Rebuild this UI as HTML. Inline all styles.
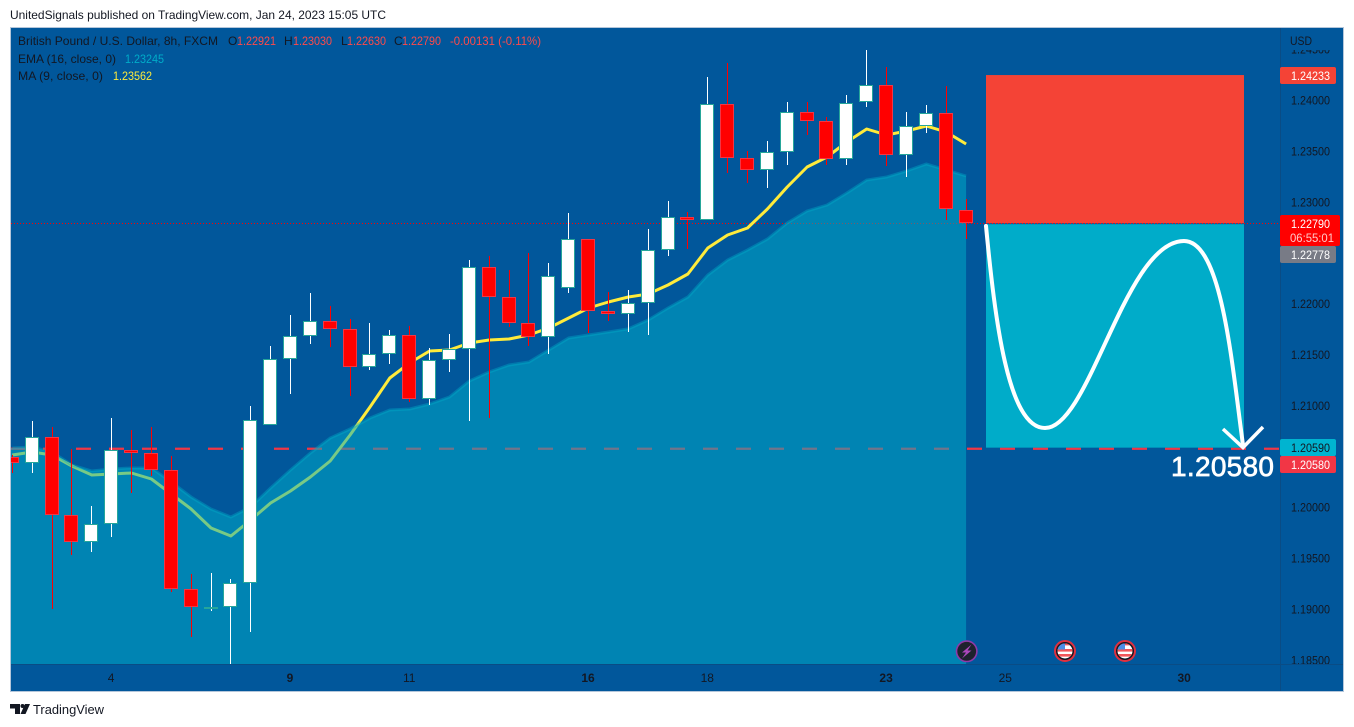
<!DOCTYPE html>
<html lang="en">
<head>
<meta charset="utf-8">
<title>GBP/USD 8h chart</title>
<style>
html,body{margin:0;padding:0;background:#fff;width:1354px;height:727px;overflow:hidden}
svg{display:block;font-family:"Liberation Sans",sans-serif}
</style>
</head>
<body>
<svg id="chart" xmlns="http://www.w3.org/2000/svg" width="1354" height="727" viewBox="0 0 1354 727">
  <defs>
    <clipPath id="plot-clip"><rect x="11" y="28" width="1269" height="636"/></clipPath>
    <clipPath id="flag-a"><circle cx="1065" cy="651" r="7.5"/></clipPath>
    <clipPath id="flag-b"><circle cx="1125" cy="651" r="7.5"/></clipPath>
  </defs>
  <rect x="0" y="0" width="1354" height="727" fill="#ffffff"/>
  <text x="10" y="19" font-size="12" fill="#131722" textLength="376" lengthAdjust="spacingAndGlyphs">UnitedSignals published on TradingView.com, Jan 24, 2023 15:05 UTC</text>
  <rect x="10.5" y="27.5" width="1333" height="664" fill="#01579b" stroke="#b4c6da" stroke-width="1"/>
  <g id="plot" clip-path="url(#plot-clip)"></g>
  <g id="annotations">
    <rect id="stop-zone" x="986" width="258" fill="#f44336"/>
    <rect id="target-zone" x="986" width="258" fill="#00acc9"/>
    <path d="M986 226 C995 320 1008 428 1045 428 C1090 428 1125 241 1184 241 C1222 241 1232 365 1243 445" fill="none" stroke="#ffffff" stroke-width="4" stroke-linecap="round"/>
    <path d="M1223 429 L1243 447.5 L1263 427" fill="none" stroke="#ffffff" stroke-width="3.5"/>
    <text x="1171" y="476" font-size="28" fill="#ffffff" stroke="#ffffff" stroke-width="0.7" textLength="103" lengthAdjust="spacing">1.20580</text>
  </g>
  <g font-size="12">
    <text x="18" y="45" fill="#131722" textLength="200" lengthAdjust="spacingAndGlyphs">British Pound / U.S. Dollar, 8h, FXCM</text>
    <text x="228" y="45" fill="#131722">O</text>
    <text x="237" y="45" fill="#ff4a4a" textLength="39" lengthAdjust="spacingAndGlyphs">1.22921</text>
    <text x="284" y="45" fill="#131722">H</text>
    <text x="293" y="45" fill="#ff4a4a" textLength="39" lengthAdjust="spacingAndGlyphs">1.23030</text>
    <text x="341" y="45" fill="#131722">L</text>
    <text x="347" y="45" fill="#ff4a4a" textLength="39" lengthAdjust="spacingAndGlyphs">1.22630</text>
    <text x="394" y="45" fill="#131722">C</text>
    <text x="402" y="45" fill="#ff4a4a" textLength="39" lengthAdjust="spacingAndGlyphs">1.22790</text>
    <text x="450" y="45" fill="#ff4a4a" textLength="91" lengthAdjust="spacingAndGlyphs">-0.00131 (-0.11%)</text>
    <text x="18" y="63" fill="#131722" textLength="98" lengthAdjust="spacingAndGlyphs">EMA (16, close, 0)</text>
    <text x="125" y="63" fill="#00acc9" textLength="39" lengthAdjust="spacingAndGlyphs">1.23245</text>
    <text x="18" y="80" fill="#131722" textLength="85" lengthAdjust="spacingAndGlyphs">MA (9, close, 0)</text>
    <text x="113" y="80" fill="#ffeb3b" textLength="39" lengthAdjust="spacingAndGlyphs">1.23562</text>
  </g>
  <g id="price-axis"></g>
  <rect x="1281" y="28" width="62" height="22" fill="#01579b"/>
  <text x="1290" y="45" font-size="12" fill="#131722" textLength="22" lengthAdjust="spacingAndGlyphs">USD</text>
  <g font-size="12">
    <rect x="1280" y="67" width="56" height="17" rx="2" fill="#f44336"/>
    <text x="1291" y="80" fill="#ffffff" textLength="39" lengthAdjust="spacingAndGlyphs">1.24233</text>
    <rect x="1280" y="215" width="60" height="31" rx="2" fill="#ff0000"/>
    <text x="1291" y="228" fill="#ffffff" textLength="39" lengthAdjust="spacingAndGlyphs">1.22790</text>
    <text x="1290" y="242" fill="#ffc9c9" textLength="44" lengthAdjust="spacingAndGlyphs">06:55:01</text>
    <rect x="1280" y="246" width="56" height="17" rx="2" fill="#787b86"/>
    <text x="1291" y="259" fill="#ffffff" textLength="39" lengthAdjust="spacingAndGlyphs">1.22778</text>
    <rect x="1280" y="439" width="56" height="17" rx="2" fill="#00b4d0"/>
    <text x="1291" y="452" fill="#131722" textLength="39" lengthAdjust="spacingAndGlyphs">1.20590</text>
    <rect x="1280" y="456" width="56" height="17" rx="2" fill="#f23645"/>
    <text x="1291" y="469" fill="#ffffff" textLength="39" lengthAdjust="spacingAndGlyphs">1.20580</text>
  </g>
  <g id="time-axis"></g>
  <g>
    <circle cx="966.7" cy="651.3" r="10.2" fill="#1e222d" stroke="#8e3aa8" stroke-width="1.6"/>
    <path d="M971.5 644.5 L962 652.5 L966 652.5 L962 658.5 L971.5 650.5 L967.5 650.5 Z" fill="#ab47bc"/>
  </g>
  <g>
    <circle cx="1065" cy="651" r="10" fill="#131722" stroke="#e0303f" stroke-width="2"/>
    <g clip-path="url(#flag-a)">
      <rect x="1057" y="643" width="16" height="16" fill="#ffffff"/>
      <rect x="1057" y="649" width="16" height="2.6" fill="#f0565a"/>
      <rect x="1057" y="654" width="16" height="2.6" fill="#f0565a"/>
      <rect x="1057" y="643" width="16" height="2.4" fill="#f0565a"/>
      <rect x="1057" y="643" width="8" height="6.5" fill="#4b8fe8"/>
    </g>
  </g>
  <g>
    <circle cx="1125" cy="651" r="10" fill="#131722" stroke="#e0303f" stroke-width="2"/>
    <g clip-path="url(#flag-b)">
      <rect x="1117" y="643" width="16" height="16" fill="#ffffff"/>
      <rect x="1117" y="649" width="16" height="2.6" fill="#f0565a"/>
      <rect x="1117" y="654" width="16" height="2.6" fill="#f0565a"/>
      <rect x="1117" y="643" width="16" height="2.4" fill="#f0565a"/>
      <rect x="1117" y="643" width="8" height="6.5" fill="#4b8fe8"/>
    </g>
  </g>
  <g>
    <path d="M10 704 H20 V714 H15 V708.5 H10 Z M25 704 H30 L25.5 714 H20.5 Z" fill="#131722"/>
    <circle cx="22.5" cy="706" r="2" fill="#131722"/>
    <text x="33" y="714" font-size="13" fill="#131722" textLength="71" lengthAdjust="spacingAndGlyphs">TradingView</text>
  </g>
</svg>
<script>
var opens = [1.20490,1.20431,1.20687,1.19920,1.19655,1.19832,1.20559,1.20530,1.20363,1.19194,1.19017,1.19023,1.19253,1.20805,1.21453,1.21679,1.21826,1.21748,1.21374,1.21502,1.21689,1.21060,1.21443,1.21551,1.22357,1.22062,1.21807,1.21669,1.22150,1.22632,1.21924,1.21895,1.22003,1.22524,1.22848,1.22818,1.23958,1.23427,1.23309,1.23486,1.23879,1.23791,1.23417,1.23977,1.24144,1.23457,1.23742,1.23869,1.22921];
var highs = [1.20513,1.20847,1.20785,1.20569,1.20012,1.20876,1.20758,1.20785,1.20503,1.19344,1.19354,1.19295,1.20994,1.21584,1.21888,1.22104,1.21979,1.21849,1.21809,1.21741,1.21780,1.21564,1.21701,1.22428,1.22471,1.22330,1.22497,1.22399,1.22890,1.22632,1.22114,1.22134,1.22733,1.23008,1.22900,1.24226,1.24361,1.23499,1.23597,1.23980,1.23980,1.23830,1.24049,1.24491,1.24321,1.23882,1.23951,1.24138,1.23030];
var lows = [1.20336,1.20339,1.18997,1.19528,1.19563,1.19710,1.20140,1.20309,1.19170,1.18728,1.18983,1.18460,1.18777,1.20805,1.21115,1.21606,1.21574,1.21095,1.21348,1.21407,1.21036,1.21007,1.21328,1.20850,1.20879,1.21767,1.21586,1.21508,1.22107,1.21708,1.21829,1.21724,1.21692,1.22471,1.22536,1.22818,1.23286,1.23185,1.23139,1.23362,1.23656,1.23362,1.23362,1.23934,1.23355,1.23247,1.23679,1.22821,1.22630];
var closes = [1.20431,1.20687,1.19920,1.19655,1.19832,1.20559,1.20530,1.20363,1.19194,1.19017,1.19023,1.19253,1.20854,1.21453,1.21679,1.21826,1.21748,1.21374,1.21502,1.21689,1.21060,1.21443,1.21551,1.22357,1.22062,1.21807,1.21669,1.22268,1.22632,1.21924,1.21895,1.22003,1.22524,1.22848,1.22818,1.23958,1.23427,1.23309,1.23486,1.23879,1.23791,1.23417,1.23968,1.24144,1.23457,1.23742,1.23869,1.22926,1.22790];
var maValues = [1.20513,1.20542,1.20513,1.20405,1.20316,1.20326,1.20336,1.20277,1.20130,1.19982,1.19796,1.19717,1.19874,1.20041,1.20159,1.20297,1.20454,1.20709,1.20984,1.21269,1.21417,1.21534,1.21544,1.21613,1.21642,1.21652,1.21692,1.21760,1.21859,1.21957,1.22016,1.22065,1.22094,1.22183,1.22291,1.22546,1.22674,1.22743,1.22929,1.23145,1.23342,1.23440,1.23587,1.23715,1.23656,1.23695,1.23745,1.23686,1.23568];
var emaValues = [1.20582,1.20591,1.20542,1.20415,1.20356,1.20375,1.20385,1.20385,1.20248,1.20100,1.19982,1.19904,1.20002,1.20189,1.20365,1.20532,1.20680,1.20768,1.20876,1.20955,1.20965,1.21014,1.21083,1.21240,1.21328,1.21397,1.21426,1.21544,1.21662,1.21692,1.21721,1.21751,1.21839,1.21957,1.22065,1.22281,1.22428,1.22527,1.22635,1.22792,1.22910,1.22969,1.23086,1.23214,1.23244,1.23303,1.23371,1.23312,1.23253];
var priceTicks = ["1.24500","1.24000","1.23500","1.23000","1.22000","1.21500","1.21000","1.20000","1.19500","1.19000","1.18500"];
var timeLabels = ["4","9","11","16","18","23","25","30"];
var timeBarIndex = [5,14,20,29,35,44,50,59];
var timeLabelBold = [false,true,false,true,false,true,false,true];
var stopLevel = 1.24245;
var entryLevel = 1.22790;
var targetLevel = 1.20585;
var lastClose = 1.22790;
var targetLine = 1.20580;

var NS = "http://www.w3.org/2000/svg";
function priceY(p) { return 100 + (1.24 - p) * 10180; }
function barX(i) { return 12.3 + 19.87 * i; }
function make(tag, parent) {
  var el = document.createElementNS(NS, tag);
  parent.appendChild(el);
  return el;
}
function linePath(values) {
  var d = "";
  for (var i = 0; i < values.length; i++) {
    d += (i ? " L" : "M") + barX(i).toFixed(1) + " " + priceY(values[i]).toFixed(1);
  }
  return d;
}

var plot = document.getElementById("plot");

var lastLine = make("line", plot);


lastLine.setAttribute("x1", 11);
lastLine.setAttribute("x2", 1280);
lastLine.setAttribute("y1", priceY(lastClose) + 0.3);
lastLine.setAttribute("y2", priceY(lastClose) + 0.3);
lastLine.setAttribute("stroke", "#ff0000");
lastLine.setAttribute("stroke-width", 1);
lastLine.setAttribute("stroke-dasharray", "1 2");

var targetDash = make("line", plot);


targetDash.setAttribute("x1", 10);
targetDash.setAttribute("x2", 1280);
targetDash.setAttribute("y1", priceY(targetLine) + 0.6);
targetDash.setAttribute("y2", priceY(targetLine) + 0.6);
targetDash.setAttribute("stroke", "#f23645");
targetDash.setAttribute("stroke-width", 2.2);
targetDash.setAttribute("stroke-dasharray", "15 18");

var maLine = make("path", plot);


maLine.setAttribute("d", linePath(maValues));
maLine.setAttribute("fill", "none");
maLine.setAttribute("stroke", "#ffeb3b");
maLine.setAttribute("stroke-width", 3);
maLine.setAttribute("stroke-linejoin", "round");

var emaArea = make("path", plot);


emaArea.setAttribute("d", "M10 664 L10 " + priceY(emaValues[0]).toFixed(1) + " " + linePath(emaValues).replace("M", "L") + " L" + barX(emaValues.length - 1).toFixed(1) + " 664 Z");
emaArea.setAttribute("fill", "#00acc9");
emaArea.setAttribute("fill-opacity", 0.53);

var emaLine = make("path", plot);


emaLine.setAttribute("d", linePath(emaValues));
emaLine.setAttribute("fill", "none");
emaLine.setAttribute("stroke", "#00acc9");
emaLine.setAttribute("stroke-opacity", 0.4);
emaLine.setAttribute("stroke-width", 3);

for (var c = 0; c < closes.length; c++) {
  var up = closes[c] >= opens[c];
  var cx = Math.floor(barX(c));
  var topPx = Math.round(priceY(Math.max(opens[c], closes[c])));
  var botPx = Math.round(priceY(Math.min(opens[c], closes[c])));
  var wickTop = Math.round(priceY(highs[c]));
  var wickBottom = Math.round(priceY(lows[c]));
  var wick = make("rect", plot);
  
  
  wick.setAttribute("x", cx);
  wick.setAttribute("y", wickTop);
  wick.setAttribute("width", 1);
  wick.setAttribute("height", wickBottom - wickTop);
  wick.setAttribute("fill", up ? "#ffffff" : "#ff0000");
  var body = make("rect", plot);
  
  
  body.setAttribute("x", cx - 6.5);
  body.setAttribute("y", topPx + 0.5);
  body.setAttribute("width", 13);
  body.setAttribute("height", Math.max(botPx - topPx - 1, 1));
  body.setAttribute("fill", up ? "#ffffff" : "#ff0000");
  body.setAttribute("stroke", up ? "#26a69a" : "#f23645");
  body.setAttribute("stroke-width", 1);
}

var stopZone = document.getElementById("stop-zone");
stopZone.setAttribute("y", priceY(stopLevel));
stopZone.setAttribute("height", priceY(entryLevel) - priceY(stopLevel));
var targetZone = document.getElementById("target-zone");
targetZone.setAttribute("y", priceY(entryLevel) + 1);
targetZone.setAttribute("height", priceY(targetLevel) - priceY(entryLevel) - 1);

var priceAxis = document.getElementById("price-axis");
var axisLine = make("line", priceAxis);


axisLine.setAttribute("x1", 1280.5);
axisLine.setAttribute("x2", 1280.5);
axisLine.setAttribute("y1", 28);
axisLine.setAttribute("y2", 691);
axisLine.setAttribute("stroke", "#0a4c85");
priceTicks.forEach(function (t) {
  var label = make("text", priceAxis);
  
  
  label.setAttribute("x", 1291);
  label.setAttribute("y", priceY(parseFloat(t)) + 4.5);
  label.setAttribute("font-size", 12);
  label.setAttribute("fill", "#131722");
  label.setAttribute("textLength", 39);
  label.setAttribute("lengthAdjust", "spacingAndGlyphs");
  label.textContent = t;
});

var timeAxis = document.getElementById("time-axis");
var timeBorder = make("line", timeAxis);


timeBorder.setAttribute("x1", 11);
timeBorder.setAttribute("x2", 1343);
timeBorder.setAttribute("y1", 664.5);
timeBorder.setAttribute("y2", 664.5);
timeBorder.setAttribute("stroke", "#0a4c85");
timeLabels.forEach(function (t, k) {
  var label = make("text", timeAxis);
  
  
  label.setAttribute("x", barX(timeBarIndex[k]) - 0.5);
  label.setAttribute("y", 682);
  label.setAttribute("font-size", 12);
  label.setAttribute("text-anchor", "middle");
  label.setAttribute("fill", "#131722");
  if (timeLabelBold[k]) { label.setAttribute("font-weight", "bold"); }
  label.textContent = t;
});
</script>
</body>
</html>
